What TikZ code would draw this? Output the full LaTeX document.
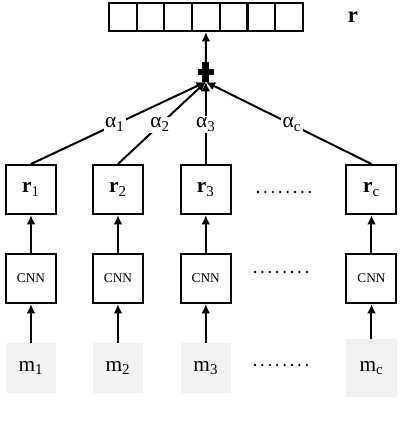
\documentclass[tikz,border=0pt]{standalone}
\usepackage{fontspec}
\setmainfont{Liberation Serif}
\usepackage{tikz}
\usetikzlibrary{arrows.meta,positioning}

\begin{document}
\begin{tikzpicture}[x=0.75pt,y=-0.75pt,
	every node/.style={font=\fontsize{16}{19}\selectfont},
	cell/.style={draw,line width=1.5pt,minimum width=20.8pt,minimum height=21pt,inner sep=0pt},
	rbox/.style={draw,line width=1.5pt,minimum width=37.5pt,minimum height=36.75pt,inner sep=0pt},
	cnnbox/.style={rbox,font=\fontsize{10}{12}\selectfont},
	mbox/.style={fill=black!5,minimum width=37.5pt,minimum height=37.5pt,inner sep=0pt},
	up/.style={line width=1.5pt,-{Latex[length=7pt,width=6.5pt]}},
	weight/.style={fill=white,inner sep=1pt,pos=0.48},
	dotrow/.style={line width=1.9pt,line cap=round,dash pattern=on 0pt off 5.55pt}]
	\useasboundingbox (0,0) rectangle (404,430);
	% output vector
	\foreach \i in {1,...,7}
		\node[cell] (c\i) at ({109+27.7*(\i-0.5)},17) {};
	\node[font=\fontsize{17}{20}\selectfont\bfseries] (rlab) at (353,17) {r};
	% sum
	\node[minimum width=12pt,minimum height=14.5pt,inner sep=0pt] (sum) at (205.8,72) {};
	\fill ([yshift=2.6pt]sum.west) rectangle ([yshift=-2.6pt]sum.east);
	\fill ([xshift=-2.6pt]sum.north) rectangle ([xshift=2.6pt]sum.south);
	\draw[up] (sum.north) -- (c4.south);
	% columns
	\node[rbox] (r1) at (31,189.5) {\textbf{r}\textsubscript{1}};
	\node[rbox] (r2) at (118,189.5) {\textbf{r}\textsubscript{2}};
	\node[rbox] (r3) at (205.8,189.5) {\textbf{r}\textsubscript{3}};
	\node[rbox] (rc) at (371.5,189.5) {\textbf{r}\textsubscript{c}};
	\node[cnnbox] (n1) at (31,278.5) {CNN};
	\node[cnnbox] (n2) at (118,278.5) {CNN};
	\node[cnnbox] (n3) at (205.8,278.5) {CNN};
	\node[cnnbox] (nc) at (371.5,278.5) {CNN};
	\node[mbox] (m1) at (31,368) {m\textsubscript{1}};
	\node[mbox] (m2) at (118,368) {m\textsubscript{2}};
	\node[mbox] (m3) at (205.8,368) {m\textsubscript{3}};
	\node[mbox,minimum width=38.25pt,minimum height=43.5pt] (mc) at (371.5,368) {m\textsubscript{c}};
	\draw[up] (m1) -- (n1);
	\draw[up] (m2) -- (n2);
	\draw[up] (m3) -- (n3);
	\draw[up] (mc) -- (nc);
	\draw[up] (n1) -- (r1);
	\draw[up] (n2) -- (r2);
	\draw[up] (n3) -- (r3);
	\draw[up] (nc) -- (rc);
	% weights
	\draw[up] (r1.north) -- node[weight] {α\textsubscript{1}} (sum.south);
	\draw[up] (r2.north) -- node[weight] {α\textsubscript{2}} (sum.south);
	\draw[up] (r3.north) -- node[weight] {α\textsubscript{3}} (sum.south);
	\draw[up] (rc.north) -- node[weight] {α\textsubscript{c}} (sum.south);
	% dots
	\draw[dotrow] (258,192) -- (310,192);
	\draw[dotrow] (255,272) -- (307,272);
	\draw[dotrow] (255,365) -- (307,365);
\end{tikzpicture}
\end{document}
